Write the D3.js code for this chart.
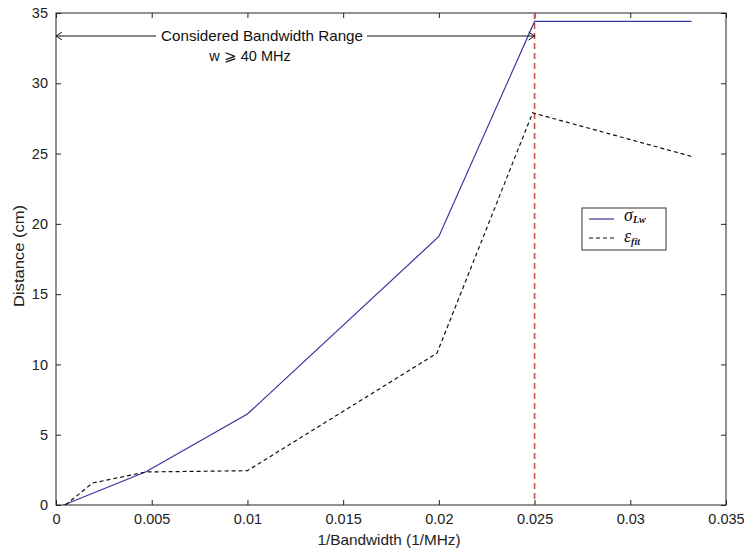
<!DOCTYPE html>
<html><head><meta charset="utf-8">
<script src="https://cdn.jsdelivr.net/npm/d3@7"></script>
<style>body{margin:0;background:#fff}svg{display:block}</style>
</head><body>
<svg id="c" width="744" height="552"></svg>
<script>
const sigmaX = [0.0004, 0.0047, 0.01, 0.02, 0.025, 0.0332];
const sigmaY = [0, 2.37, 6.47, 19.1, 34.4, 34.4];
const epsX = [0.0005, 0.0019, 0.0047, 0.01, 0.0199, 0.0249, 0.0332];
const epsY = [0, 1.56, 2.35, 2.44, 10.8, 27.9, 24.8];
const xTicks = [0, 0.005, 0.01, 0.015, 0.02, 0.025, 0.03, 0.035];
const yTicks = [0, 5, 10, 15, 20, 25, 30, 35];
const cutoffX = 0.025;

const svg = d3.select("#c");
const L = 56, R = 726, T = 13, B = 505;
const x = d3.scaleLinear().domain([0, 0.035]).range([L, R]);
const y = d3.scaleLinear().domain([0, 35]).range([B, T]);
const font = "'Liberation Sans', Arial, sans-serif";

svg.append("rect").attr("x", L).attr("y", T).attr("width", R - L).attr("height", B - T)
  .attr("fill", "none").attr("stroke", "#222").attr("stroke-width", 1);

const tl = 5;
const fmt = d => d === 0 ? "0" : String(d);
const gxb = svg.append("g").attr("transform", `translate(0,${B})`)
  .call(d3.axisBottom(x).tickValues(xTicks).tickFormat(fmt).tickSizeInner(-tl).tickSizeOuter(0).tickPadding(9));
const gxt = svg.append("g").attr("transform", `translate(0,${T})`)
  .call(d3.axisTop(x).tickValues(xTicks).tickFormat("").tickSizeInner(-tl).tickSizeOuter(0));
const gyl = svg.append("g").attr("transform", `translate(${L},0)`)
  .call(d3.axisLeft(y).tickValues(yTicks).tickFormat(fmt).tickSizeInner(-tl).tickSizeOuter(0).tickPadding(8));
const gyr = svg.append("g").attr("transform", `translate(${R},0)`)
  .call(d3.axisRight(y).tickValues(yTicks).tickFormat("").tickSizeInner(-tl).tickSizeOuter(0));
[gxb, gxt, gyl, gyr].forEach(g => {
  g.select(".domain").remove();
  g.selectAll("line").attr("stroke", "#222");
  g.selectAll("text").attr("font-family", font).attr("font-size", 14.5).attr("fill", "#222");
});

svg.append("text").attr("x", 389).attr("y", 545).attr("text-anchor", "middle")
  .attr("font-family", font).attr("font-size", 14.5).attr("fill", "#222")
  .attr("textLength", 143).attr("lengthAdjust", "spacingAndGlyphs").text("1/Bandwidth (1/MHz)");
svg.append("text").attr("transform", `translate(24,256) rotate(-90)`).attr("text-anchor", "middle")
  .attr("font-family", font).attr("font-size", 14.5).attr("fill", "#222")
  .attr("textLength", 102).attr("lengthAdjust", "spacingAndGlyphs").text("Distance (cm)");

svg.append("line").attr("x1", x(cutoffX)).attr("x2", x(cutoffX)).attr("y1", y(35)).attr("y2", y(0))
  .attr("stroke", "#cc5252").attr("stroke-width", 1.6).attr("stroke-dasharray", "6,4");

const line = d3.line().x(d => x(d[0])).y(d => y(d[1]));
svg.append("path").datum(sigmaX.map((v, i) => [v, sigmaY[i]])).attr("d", line)
  .attr("fill", "none").attr("stroke", "#3535a0").attr("stroke-width", 1.2);
svg.append("path").datum(epsX.map((v, i) => [v, epsY[i]])).attr("d", line)
  .attr("fill", "none").attr("stroke", "#111").attr("stroke-width", 1.2).attr("stroke-dasharray", "4,3");

const ay = 36;
const ax1 = x(0), ax2 = x(cutoffX);
svg.append("line").attr("x1", ax1).attr("x2", 156).attr("y1", ay).attr("y2", ay).attr("stroke", "#111");
svg.append("line").attr("x1", 367).attr("x2", ax2).attr("y1", ay).attr("y2", ay).attr("stroke", "#111");
svg.append("path").attr("d", `M${ax1 + 6},${ay - 4}L${ax1},${ay}L${ax1 + 6},${ay + 4}`).attr("fill", "none").attr("stroke", "#111");
svg.append("path").attr("d", `M${ax2 - 6},${ay - 4}L${ax2},${ay}L${ax2 - 6},${ay + 4}`).attr("fill", "none").attr("stroke", "#111");
svg.append("text").attr("x", 262).attr("y", 41).attr("text-anchor", "middle")
  .attr("font-family", font).attr("font-size", 14.5).attr("fill", "#111")
  .attr("textLength", 202).attr("lengthAdjust", "spacingAndGlyphs").text("Considered Bandwidth Range");
svg.append("text").attr("x", 250).attr("y", 61).attr("text-anchor", "middle")
  .attr("font-family", font).attr("font-size", 14.5).attr("fill", "#111").text("w ⩾ 40 MHz");

const lg = svg.append("g");
lg.append("rect").attr("x", 582).attr("y", 208).attr("width", 84).attr("height", 42)
  .attr("fill", "#fff").attr("stroke", "#333");
lg.append("line").attr("x1", 589).attr("x2", 614).attr("y1", 219).attr("y2", 219).attr("stroke", "#3535a0").attr("stroke-width", 1.2);
lg.append("line").attr("x1", 589).attr("x2", 614).attr("y1", 238).attr("y2", 238).attr("stroke", "#111").attr("stroke-width", 1.2).attr("stroke-dasharray", "4,3");
const serif = "'Liberation Serif', 'Times New Roman', serif";
const t1 = lg.append("text").attr("x", 624).attr("y", 221).attr("font-family", serif).attr("font-style", "italic").attr("font-size", 18).attr("fill", "#111");
t1.append("tspan").text("σ");
t1.append("tspan").attr("dy", 2).attr("font-size", 10).attr("font-weight", "bold").text("Lw");
const t2 = lg.append("text").attr("x", 624).attr("y", 242).attr("font-family", serif).attr("font-style", "italic").attr("font-size", 18).attr("fill", "#111");
t2.append("tspan").text("ε");
t2.append("tspan").attr("dy", 3).attr("font-size", 10).attr("font-weight", "bold").text("fit");
</script>
</body></html>
